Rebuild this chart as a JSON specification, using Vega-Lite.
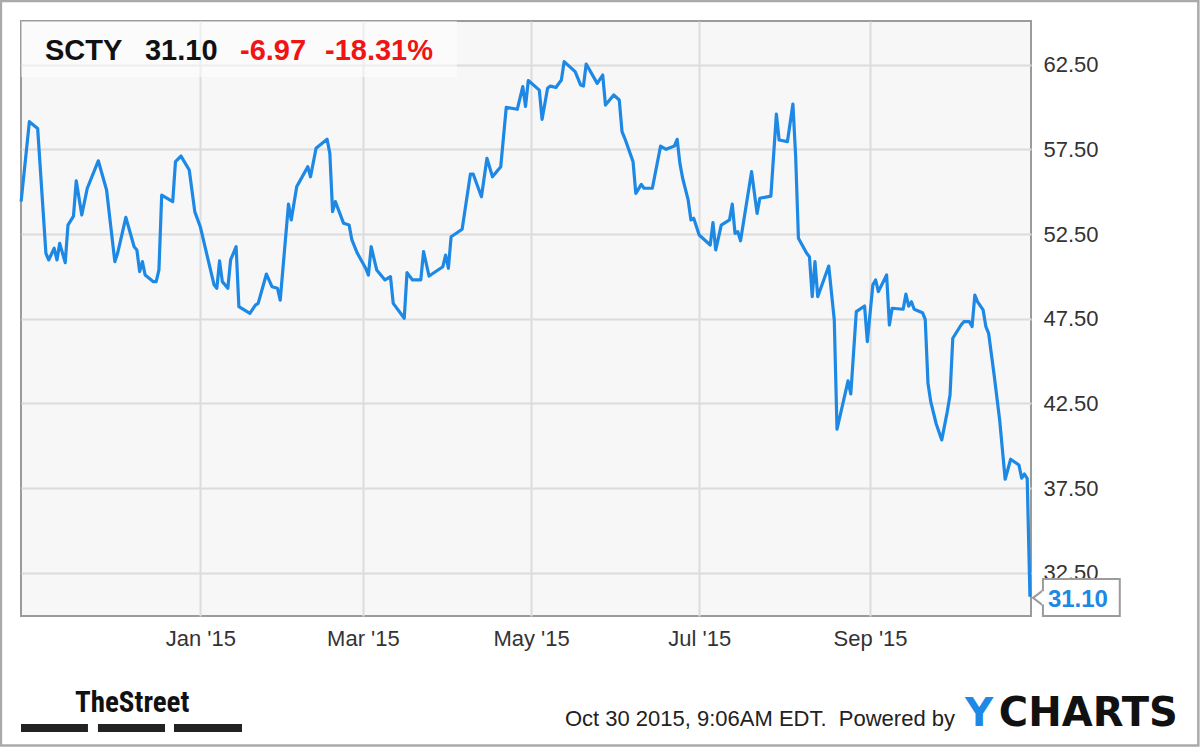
{
  "$schema": "https://vega.github.io/schema/vega-lite/v6.json",
  "width": 1010,
  "height": 595,
  "autosize": {"type": "none"},
  "padding": {"left": 21, "top": 21, "right": 169, "bottom": 131},
  "background": "#ffffff",
  "config": {
    "font": "Liberation Sans",
    "view": {"fill": "#f7f7f7", "stroke": "#9b9b9b", "strokeWidth": 2}
  },
  "data": {"values": [{}]},
  "datasets": {
    "prices": [
      {"date": "2014-10-28", "close": 54.41},
      {"date": "2014-10-31", "close": 59.13},
      {"date": "2014-11-03", "close": 58.73},
      {"date": "2014-11-06", "close": 51.36},
      {"date": "2014-11-07", "close": 50.97},
      {"date": "2014-11-09", "close": 51.66},
      {"date": "2014-11-10", "close": 50.97},
      {"date": "2014-11-11", "close": 51.95},
      {"date": "2014-11-13", "close": 50.81},
      {"date": "2014-11-14", "close": 53.03},
      {"date": "2014-11-16", "close": 53.56},
      {"date": "2014-11-17", "close": 55.64},
      {"date": "2014-11-19", "close": 53.62},
      {"date": "2014-11-21", "close": 55.2},
      {"date": "2014-11-25", "close": 56.82},
      {"date": "2014-11-28", "close": 55.1},
      {"date": "2014-12-01", "close": 50.87},
      {"date": "2014-12-02", "close": 51.36},
      {"date": "2014-12-05", "close": 53.48},
      {"date": "2014-12-08", "close": 51.75},
      {"date": "2014-12-09", "close": 51.56},
      {"date": "2014-12-10", "close": 50.28},
      {"date": "2014-12-11", "close": 50.87},
      {"date": "2014-12-12", "close": 50.08},
      {"date": "2014-12-15", "close": 49.69},
      {"date": "2014-12-16", "close": 49.69},
      {"date": "2014-12-17", "close": 50.38},
      {"date": "2014-12-18", "close": 54.8},
      {"date": "2014-12-22", "close": 54.41},
      {"date": "2014-12-23", "close": 56.77},
      {"date": "2014-12-25", "close": 57.1},
      {"date": "2014-12-28", "close": 56.28},
      {"date": "2014-12-30", "close": 53.82},
      {"date": "2015-01-01", "close": 52.93},
      {"date": "2015-01-06", "close": 49.5},
      {"date": "2015-01-07", "close": 49.3},
      {"date": "2015-01-08", "close": 50.91},
      {"date": "2015-01-09", "close": 49.69},
      {"date": "2015-01-11", "close": 49.3},
      {"date": "2015-01-12", "close": 50.97},
      {"date": "2015-01-14", "close": 51.75},
      {"date": "2015-01-15", "close": 48.21},
      {"date": "2015-01-19", "close": 47.82},
      {"date": "2015-01-21", "close": 48.31},
      {"date": "2015-01-22", "close": 48.41},
      {"date": "2015-01-25", "close": 50.14},
      {"date": "2015-01-27", "close": 49.39},
      {"date": "2015-01-29", "close": 49.3},
      {"date": "2015-01-30", "close": 48.6},
      {"date": "2015-02-02", "close": 54.27},
      {"date": "2015-02-03", "close": 53.33},
      {"date": "2015-02-05", "close": 55.3},
      {"date": "2015-02-06", "close": 55.59},
      {"date": "2015-02-09", "close": 56.47},
      {"date": "2015-02-10", "close": 55.88},
      {"date": "2015-02-12", "close": 57.56},
      {"date": "2015-02-16", "close": 58.09},
      {"date": "2015-02-17", "close": 57.26},
      {"date": "2015-02-18", "close": 53.82},
      {"date": "2015-02-19", "close": 54.41},
      {"date": "2015-02-22", "close": 53.13},
      {"date": "2015-02-24", "close": 53.03},
      {"date": "2015-02-25", "close": 52.15},
      {"date": "2015-02-27", "close": 51.36},
      {"date": "2015-03-02", "close": 50.48},
      {"date": "2015-03-03", "close": 50.08},
      {"date": "2015-03-04", "close": 51.75},
      {"date": "2015-03-06", "close": 50.38},
      {"date": "2015-03-09", "close": 49.79},
      {"date": "2015-03-11", "close": 49.98},
      {"date": "2015-03-12", "close": 48.41},
      {"date": "2015-03-16", "close": 47.53},
      {"date": "2015-03-17", "close": 50.22},
      {"date": "2015-03-19", "close": 49.79},
      {"date": "2015-03-22", "close": 49.79},
      {"date": "2015-03-23", "close": 51.46},
      {"date": "2015-03-25", "close": 50.02},
      {"date": "2015-03-30", "close": 50.57},
      {"date": "2015-03-31", "close": 51.26},
      {"date": "2015-04-01", "close": 50.48},
      {"date": "2015-04-02", "close": 52.34},
      {"date": "2015-04-06", "close": 52.78},
      {"date": "2015-04-09", "close": 56.04},
      {"date": "2015-04-10", "close": 56.04},
      {"date": "2015-04-13", "close": 54.7},
      {"date": "2015-04-15", "close": 56.97},
      {"date": "2015-04-17", "close": 55.88},
      {"date": "2015-04-20", "close": 56.47},
      {"date": "2015-04-22", "close": 59.97},
      {"date": "2015-04-26", "close": 59.86},
      {"date": "2015-04-28", "close": 61.2},
      {"date": "2015-04-29", "close": 60.03},
      {"date": "2015-04-30", "close": 61.56},
      {"date": "2015-05-04", "close": 60.99},
      {"date": "2015-05-05", "close": 59.27},
      {"date": "2015-05-07", "close": 61.1},
      {"date": "2015-05-08", "close": 61.23},
      {"date": "2015-05-10", "close": 61.15},
      {"date": "2015-05-12", "close": 61.59},
      {"date": "2015-05-13", "close": 62.67},
      {"date": "2015-05-17", "close": 62.08},
      {"date": "2015-05-19", "close": 61.29},
      {"date": "2015-05-20", "close": 61.23},
      {"date": "2015-05-21", "close": 62.53},
      {"date": "2015-05-25", "close": 61.39},
      {"date": "2015-05-27", "close": 61.88},
      {"date": "2015-05-28", "close": 60.11},
      {"date": "2015-05-31", "close": 60.7},
      {"date": "2015-06-02", "close": 60.41},
      {"date": "2015-06-03", "close": 58.54},
      {"date": "2015-06-04", "close": 58.15},
      {"date": "2015-06-07", "close": 56.77},
      {"date": "2015-06-08", "close": 54.9},
      {"date": "2015-06-10", "close": 55.43},
      {"date": "2015-06-11", "close": 55.2},
      {"date": "2015-06-14", "close": 55.2},
      {"date": "2015-06-16", "close": 56.87},
      {"date": "2015-06-17", "close": 57.69},
      {"date": "2015-06-19", "close": 57.5},
      {"date": "2015-06-22", "close": 57.69},
      {"date": "2015-06-23", "close": 58.09},
      {"date": "2015-06-24", "close": 56.67},
      {"date": "2015-06-25", "close": 55.79},
      {"date": "2015-06-27", "close": 54.51},
      {"date": "2015-06-28", "close": 53.33},
      {"date": "2015-06-29", "close": 53.43},
      {"date": "2015-07-01", "close": 52.44},
      {"date": "2015-07-05", "close": 51.85},
      {"date": "2015-07-06", "close": 53.17},
      {"date": "2015-07-07", "close": 51.56},
      {"date": "2015-07-09", "close": 53.03},
      {"date": "2015-07-12", "close": 53.33},
      {"date": "2015-07-13", "close": 54.27},
      {"date": "2015-07-14", "close": 52.54},
      {"date": "2015-07-15", "close": 52.64},
      {"date": "2015-07-16", "close": 52.1},
      {"date": "2015-07-20", "close": 56.18},
      {"date": "2015-07-22", "close": 53.72},
      {"date": "2015-07-23", "close": 54.61},
      {"date": "2015-07-27", "close": 54.74},
      {"date": "2015-07-29", "close": 59.58},
      {"date": "2015-07-30", "close": 58.05},
      {"date": "2015-08-02", "close": 57.95},
      {"date": "2015-08-04", "close": 60.17},
      {"date": "2015-08-05", "close": 57.06},
      {"date": "2015-08-06", "close": 52.25},
      {"date": "2015-08-09", "close": 51.36},
      {"date": "2015-08-10", "close": 51.16},
      {"date": "2015-08-11", "close": 48.8},
      {"date": "2015-08-12", "close": 50.87},
      {"date": "2015-08-13", "close": 48.8},
      {"date": "2015-08-17", "close": 50.61},
      {"date": "2015-08-19", "close": 47.43},
      {"date": "2015-08-20", "close": 40.98},
      {"date": "2015-08-24", "close": 43.84},
      {"date": "2015-08-25", "close": 43.06},
      {"date": "2015-08-27", "close": 47.92},
      {"date": "2015-08-30", "close": 48.25},
      {"date": "2015-08-31", "close": 46.15},
      {"date": "2015-09-02", "close": 49.5},
      {"date": "2015-09-03", "close": 49.79},
      {"date": "2015-09-04", "close": 49.1},
      {"date": "2015-09-07", "close": 50.08},
      {"date": "2015-09-08", "close": 47.13},
      {"date": "2015-09-09", "close": 48.12},
      {"date": "2015-09-13", "close": 48.06},
      {"date": "2015-09-14", "close": 48.96},
      {"date": "2015-09-15", "close": 48.25},
      {"date": "2015-09-16", "close": 48.5},
      {"date": "2015-09-17", "close": 48.06},
      {"date": "2015-09-20", "close": 47.86},
      {"date": "2015-09-21", "close": 47.47},
      {"date": "2015-09-22", "close": 43.69},
      {"date": "2015-09-23", "close": 42.61},
      {"date": "2015-09-25", "close": 41.29},
      {"date": "2015-09-27", "close": 40.35},
      {"date": "2015-09-29", "close": 42.02},
      {"date": "2015-09-30", "close": 43.0},
      {"date": "2015-10-01", "close": 46.35},
      {"date": "2015-10-04", "close": 47.13},
      {"date": "2015-10-05", "close": 47.33},
      {"date": "2015-10-07", "close": 47.33},
      {"date": "2015-10-08", "close": 47.04},
      {"date": "2015-10-09", "close": 48.9},
      {"date": "2015-10-10", "close": 48.5},
      {"date": "2015-10-12", "close": 48.02},
      {"date": "2015-10-13", "close": 47.04},
      {"date": "2015-10-14", "close": 46.64},
      {"date": "2015-10-16", "close": 44.18},
      {"date": "2015-10-18", "close": 41.53},
      {"date": "2015-10-20", "close": 38.03},
      {"date": "2015-10-22", "close": 39.21},
      {"date": "2015-10-25", "close": 38.87},
      {"date": "2015-10-26", "close": 38.09},
      {"date": "2015-10-27", "close": 38.34},
      {"date": "2015-10-28", "close": 38.07},
      {"date": "2015-10-29", "close": 31.10}
    ]
  },
  "layer": [
    {
      "data": {"name": "prices"},
      "mark": {"type": "line", "color": "#1e88e5", "strokeWidth": 3.2, "strokeJoin": "round"},
      "encoding": {
        "x": {
          "field": "date", "type": "temporal", "title": null,
          "scale": {"type": "utc", "nice": false, "domain": [
            {"year": 2014, "month": 10, "date": 27, "hours": 23, "utc": true},
            {"year": 2015, "month": 10, "date": 29, "hours": 9, "utc": true}
          ]},
          "axis": {
            "title": null,
            "values": [
              {"year": 2015, "month": 1, "date": 1, "utc": true},
              {"year": 2015, "month": 3, "date": 1, "utc": true},
              {"year": 2015, "month": 5, "date": 1, "utc": true},
              {"year": 2015, "month": 7, "date": 1, "utc": true},
              {"year": 2015, "month": 9, "date": 1, "utc": true}
            ],
            "format": "%b '%y",
            "ticks": false, "domain": false, "grid": true,
            "gridColor": "#dcdcdc", "gridWidth": 2,
            "labelFontSize": 22, "labelColor": "#333333", "labelPadding": 12,
            "labelFlush": false, "labelOverlap": false
          }
        },
        "y": {
          "field": "close", "type": "quantitative", "title": null,
          "scale": {"domain": [29.96, 65.07], "nice": false, "zero": false},
          "axis": {
            "title": null, "orient": "right",
            "values": [32.5, 37.5, 42.5, 47.5, 52.5, 57.5, 62.5],
            "format": ".2f",
            "ticks": false, "domain": false, "grid": true,
            "gridColor": "#dcdcdc", "gridWidth": 2,
            "labelFontSize": 22, "labelColor": "#333333", "labelPadding": 12
          }
        }
      }
    },
    {
      "mark": {"type": "rect", "fill": "#ffffff", "opacity": 0.5},
      "encoding": {
        "x": {"datum": {"year": 2014, "month": 10, "date": 27, "hours": 23, "utc": true}, "type": "temporal", "title": null},
        "x2": {"datum": {"year": 2015, "month": 4, "date": 4, "hours": 3, "utc": true}},
        "y": {"datum": 65.07, "type": "quantitative", "title": null},
        "y2": {"datum": 61.76}
      }
    },
    {
      "mark": {"type": "text", "align": "left", "baseline": "alphabetic", "fontSize": 29, "fontWeight": "bold", "color": "#111111"},
      "encoding": {
        "x": {"datum": {"year": 2014, "month": 11, "date": 5, "hours": 16, "utc": true}, "type": "temporal", "title": null},
        "y": {"datum": 62.77, "type": "quantitative", "title": null},
        "text": {"value": "SCTY"}
      }
    },
    {
      "mark": {"type": "text", "align": "left", "baseline": "alphabetic", "fontSize": 29, "fontWeight": "bold", "color": "#111111"},
      "encoding": {
        "x": {"datum": {"year": 2014, "month": 12, "date": 11, "hours": 22, "minutes": 30, "utc": true}, "type": "temporal", "title": null},
        "y": {"datum": 62.77, "type": "quantitative", "title": null},
        "text": {"value": "31.10"}
      }
    },
    {
      "mark": {"type": "text", "align": "left", "baseline": "alphabetic", "fontSize": 29, "fontWeight": "bold", "color": "#f01414"},
      "encoding": {
        "x": {"datum": {"year": 2015, "month": 1, "date": 15, "hours": 9, "minutes": 40, "utc": true}, "type": "temporal", "title": null},
        "y": {"datum": 62.77, "type": "quantitative", "title": null},
        "text": {"value": "-6.97"}
      }
    },
    {
      "mark": {"type": "text", "align": "left", "baseline": "alphabetic", "fontSize": 29, "fontWeight": "bold", "color": "#f01414"},
      "encoding": {
        "x": {"datum": {"year": 2015, "month": 2, "date": 15, "hours": 5, "minutes": 45, "utc": true}, "type": "temporal", "title": null},
        "y": {"datum": 62.77, "type": "quantitative", "title": null},
        "text": {"value": "-18.31%"}
      }
    },
    {
      "mark": {"type": "rect", "fill": "#ffffff", "stroke": "#9b9b9b", "strokeWidth": 2},
      "encoding": {
        "x": {"datum": {"year": 2015, "month": 11, "date": 2, "hours": 17, "utc": true}, "type": "temporal", "title": null},
        "x2": {"datum": {"year": 2015, "month": 11, "date": 30, "hours": 14, "utc": true}},
        "y": {"datum": 32.15, "type": "quantitative", "title": null},
        "y2": {"datum": 29.96}
      }
    },
    {
      "mark": {"type": "point", "shape": "M 1 -1 L -0.33 0 L 1 1", "size": 225, "filled": true, "fill": "#ffffff", "fillOpacity": 1, "stroke": "#9b9b9b", "strokeWidth": 2, "opacity": 1},
      "encoding": {
        "x": {"datum": {"year": 2015, "month": 10, "date": 31, "utc": true}, "type": "temporal", "title": null},
        "y": {"datum": 31.03, "type": "quantitative", "title": null}
      }
    },
    {
      "mark": {"type": "point", "shape": "M 0.85 -0.87 L 1.4 -0.87 L 1.4 0.87 L 0.85 0.87 Z", "size": 225, "filled": true, "fill": "#ffffff", "fillOpacity": 1, "strokeWidth": 0, "opacity": 1},
      "encoding": {
        "x": {"datum": {"year": 2015, "month": 10, "date": 31, "utc": true}, "type": "temporal", "title": null},
        "y": {"datum": 31.03, "type": "quantitative", "title": null}
      }
    },
    {
      "mark": {"type": "text", "align": "left", "baseline": "alphabetic", "fontSize": 24, "fontWeight": "bold", "color": "#1e88e5"},
      "encoding": {
        "x": {"datum": {"year": 2015, "month": 11, "date": 4, "hours": 12, "utc": true}, "type": "temporal", "title": null},
        "y": {"datum": 30.49, "type": "quantitative", "title": null},
        "text": {"value": "31.10"}
      }
    },
    {
      "mark": {"type": "text", "align": "left", "baseline": "alphabetic", "fontSize": 29, "fontWeight": "bold", "font": "Liberation Sans Narrow, Roboto Condensed, Liberation Sans", "color": "#111111"},
      "encoding": {
        "x": {"datum": {"year": 2014, "month": 11, "date": 16, "hours": 13, "utc": true}, "type": "temporal", "title": null},
        "y": {"datum": 24.3, "type": "quantitative", "title": null},
        "text": {"value": "TheStreet"}
      }
    },
    {
      "mark": {"type": "rect", "fill": "#222222"},
      "encoding": {
        "x": {"datum": {"year": 2014, "month": 10, "date": 27, "hours": 23, "utc": true}, "type": "temporal", "title": null},
        "x2": {"datum": {"year": 2014, "month": 11, "date": 21, "hours": 6, "utc": true}},
        "y": {"datum": 23.59, "type": "quantitative", "title": null},
        "y2": {"datum": 23.12}
      }
    },
    {
      "mark": {"type": "rect", "fill": "#222222"},
      "encoding": {
        "x": {"datum": {"year": 2014, "month": 11, "date": 24, "hours": 21, "utc": true}, "type": "temporal", "title": null},
        "x2": {"datum": {"year": 2014, "month": 12, "date": 19, "hours": 5, "utc": true}},
        "y": {"datum": 23.59, "type": "quantitative", "title": null},
        "y2": {"datum": 23.12}
      }
    },
    {
      "mark": {"type": "rect", "fill": "#222222"},
      "encoding": {
        "x": {"datum": {"year": 2014, "month": 12, "date": 22, "hours": 11, "utc": true}, "type": "temporal", "title": null},
        "x2": {"datum": {"year": 2015, "month": 1, "date": 16, "hours": 3, "utc": true}},
        "y": {"datum": 23.59, "type": "quantitative", "title": null},
        "y2": {"datum": 23.12}
      }
    },
    {
      "mark": {"type": "text", "align": "right", "baseline": "alphabetic", "fontSize": 22, "color": "#222222"},
      "encoding": {
        "x": {"datum": {"year": 2015, "month": 10, "date": 1, "hours": 19, "minutes": 10, "utc": true}, "type": "temporal", "title": null},
        "y": {"datum": 23.47, "type": "quantitative", "title": null},
        "text": {"value": "Oct 30 2015, 9:06AM EDT.\u00a0 Powered by"}
      }
    },
    {
      "mark": {"type": "text", "align": "left", "baseline": "alphabetic", "fontSize": 39, "fontWeight": "bold", "font": "DejaVu Sans", "color": "#1e88e5"},
      "encoding": {
        "x": {"datum": {"year": 2015, "month": 10, "date": 5, "hours": 9, "minutes": 40, "utc": true}, "type": "temporal", "title": null},
        "y": {"datum": 23.47, "type": "quantitative", "title": null},
        "text": {"value": "Y"}
      }
    },
    {
      "mark": {"type": "text", "align": "left", "baseline": "alphabetic", "fontSize": 40, "fontWeight": "bold", "font": "DejaVu Sans", "color": "#111111"},
      "encoding": {
        "x": {"datum": {"year": 2015, "month": 10, "date": 17, "hours": 17, "utc": true}, "type": "temporal", "title": null},
        "y": {"datum": 23.47, "type": "quantitative", "title": null},
        "text": {"value": "CHARTS"}
      }
    },
    {
      "mark": {"type": "rect", "fillOpacity": 0, "stroke": "#aaaaaa", "strokeWidth": 2.5},
      "encoding": {
        "x": {"datum": {"year": 2014, "month": 10, "date": 20, "hours": 16, "utc": true}, "type": "temporal", "title": null},
        "x2": {"datum": {"year": 2015, "month": 12, "date": 29, "hours": 2, "utc": true}},
        "y": {"datum": 66.25, "type": "quantitative", "title": null},
        "y2": {"datum": 22.32}
      }
    }
  ]
}
